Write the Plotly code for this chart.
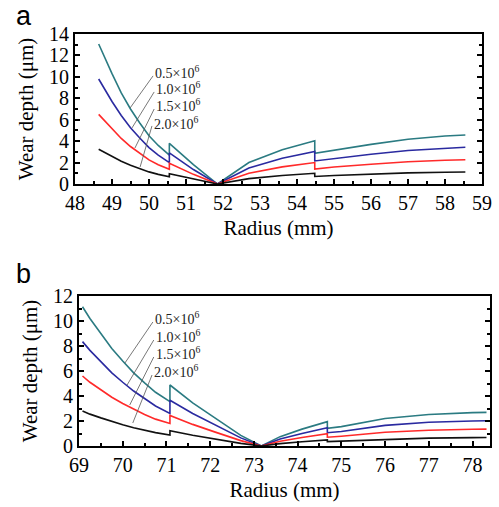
import plotly.graph_objects as go

# panel a: radius (mm) and wear depth (um); repeated radius values give the steps
r_a = [48.64, 48.8, 49.0, 49.25, 49.5, 49.75, 50.0, 50.25, 50.55,
       50.55, 51.2, 51.85,
       52.7, 53.6, 54.48,
       54.48, 55.0, 56.0, 57.0, 58.0, 58.55]
teal_a = [13.07, 11.8, 10.3, 8.5, 7.0, 5.7, 4.5, 3.6, 2.7,
          3.8, 1.8, 0.0,
          2.0, 3.2, 4.04,
          2.86, 3.17, 3.7, 4.17, 4.48, 4.57]
blue_a = [9.8, 8.85, 7.7, 6.4, 5.25, 4.3, 3.4, 2.7, 2.0,
          2.9, 1.35, 0.0,
          1.5, 2.4, 3.03,
          2.15, 2.38, 2.78, 3.13, 3.36, 3.43]
red_a = [6.5, 5.9, 5.15, 4.25, 3.5, 2.85, 2.25, 1.8, 1.37,
         1.93, 0.9, 0.0,
         1.0, 1.6, 2.0,
         1.4, 1.58, 1.85, 2.08, 2.22, 2.26]
black_a = [3.25, 2.95, 2.57, 2.13, 1.75, 1.42, 1.13, 0.9, 0.68,
           0.95, 0.45, 0.0,
           0.5, 0.8, 1.0,
           0.7, 0.79, 0.93, 1.04, 1.1, 1.12]

# panel b
r_b = [69.08, 69.25, 69.5, 69.75, 70.0, 70.25, 70.5, 70.75, 71.08,
       71.08, 71.6, 72.1, 72.7, 73.17,
       73.6, 74.1, 74.68,
       74.68, 75.0, 76.0, 77.0, 78.0, 78.32]
teal_b = [11.14, 10.2, 9.0, 7.8, 6.8, 5.85, 5.05, 4.3, 3.55,
          4.88, 3.45, 2.25, 0.85, 0.0,
          0.75, 1.35, 1.95,
          1.41, 1.55, 2.2, 2.52, 2.67, 2.69]
blue_b = [8.35, 7.65, 6.75, 5.85, 5.1, 4.4, 3.8, 3.2, 2.61,
          3.66, 2.6, 1.7, 0.65, 0.0,
          0.56, 1.0, 1.46,
          1.06, 1.16, 1.65, 1.9, 2.0, 2.02]
red_b = [5.6, 5.1, 4.5, 3.9, 3.4, 2.93, 2.52, 2.15, 1.8,
         2.44, 1.73, 1.13, 0.43, 0.0,
         0.38, 0.68, 0.98,
         0.7, 0.78, 1.1, 1.26, 1.34, 1.35]
black_b = [2.8, 2.55, 2.25, 1.95, 1.7, 1.46, 1.26, 1.07, 0.88,
           1.22, 0.86, 0.56, 0.21, 0.0,
           0.19, 0.34, 0.49,
           0.35, 0.39, 0.55, 0.63, 0.67, 0.68]

labels = ["0.5×10<sup>6</sup>", "1.0×10<sup>6</sup>", "1.5×10<sup>6</sup>", "2.0×10<sup>6</sup>"]
colors = ["#2b7b82", "#2a2aa0", "#ff2a2a", "#111111"]

# label anchor (radius, depth) and the curve point each leader line touches
lab_a = [(50.11, 10.46), (50.14, 8.96), (50.14, 7.38), (50.08, 5.7)]
lead_a = [(50.11, 10.09, 49.49, 7.10), (50.14, 8.59, 49.54, 5.23),
          (50.14, 7.0, 49.62, 3.36), (50.08, 5.42, 49.76, 1.59)]
lab_b = [(70.69, 10.24), (70.71, 8.8), (70.71, 7.44), (70.67, 6.0)]
lead_b = [(70.69, 9.92, 70.05, 6.64), (70.71, 8.48, 70.10, 4.88),
          (70.71, 7.12, 70.16, 3.28), (70.67, 5.68, 70.23, 1.84)]

FONT = "Liberation Serif, Times New Roman, serif"

fig = go.Figure()
for ys, c in zip([teal_a, blue_a, red_a, black_a], colors):
    fig.add_trace(go.Scatter(x=r_a, y=ys, mode="lines", line=dict(color=c, width=1.6),
                             xaxis="x", yaxis="y", showlegend=False))
for ys, c in zip([teal_b, blue_b, red_b, black_b], colors):
    fig.add_trace(go.Scatter(x=r_b, y=ys, mode="lines", line=dict(color=c, width=1.6),
                             xaxis="x2", yaxis="y2", showlegend=False))

shapes = []
annos = []
for (xr, yr, labs, leads) in [("x", "y", lab_a, lead_a), ("x2", "y2", lab_b, lead_b)]:
    for txt, (lx, ly), (x0, y0, x1, y1) in zip(labels, labs, leads):
        shapes.append(dict(type="line", xref=xr, yref=yr, x0=x0, y0=y0, x1=x1, y1=y1,
                           line=dict(color="#555555", width=0.8)))
        annos.append(dict(xref=xr, yref=yr, x=lx, y=ly, text=txt, showarrow=False,
                          xanchor="left", yanchor="middle",
                          font=dict(family=FONT, size=14, color="#222")))

annos.append(dict(xref="paper", yref="paper", x=14 / 499, y=1 - 16 / 507, text="a",
                  showarrow=False, xanchor="left", yanchor="middle",
                  font=dict(family="Liberation Sans", size=27, color="black")))
annos.append(dict(xref="paper", yref="paper", x=14 / 499, y=1 - 274 / 507, text="b",
                  showarrow=False, xanchor="left", yanchor="middle",
                  font=dict(family="Liberation Sans", size=27, color="black")))

tickfont = dict(family=FONT, size=20, color="black")
titlefont = dict(family=FONT, size=21, color="black")

def xax(domain, rng, anchor):
    return dict(domain=domain, range=rng, anchor=anchor, dtick=1, ticks="inside", ticklen=5,
                tickwidth=1.5, tickcolor="black", showline=True, linewidth=2, linecolor="black",
                mirror=True, showgrid=False, zeroline=False, tickfont=tickfont, automargin=False,
                minor=dict(dtick=0.5, ticks="inside", ticklen=3, tickwidth=1.5, tickcolor="black"),
                title=dict(text="Radius (mm)", font=titlefont, standoff=7))

def yax(domain, rng, anchor):
    return dict(domain=domain, range=rng, anchor=anchor, dtick=2, ticks="inside", ticklen=5,
                tickwidth=1.5, tickcolor="black", showline=True, linewidth=2, linecolor="black",
                mirror="ticks", showgrid=False, zeroline=False, tickfont=tickfont, automargin=False,
                minor=dict(dtick=1, ticks="inside", ticklen=3, tickwidth=1.5, tickcolor="black"),
                title=dict(text="Wear depth (μm)", font=titlefont, standoff=10))

fig.update_layout(
    width=499, height=507,
    margin=dict(l=0, r=0, t=0, b=0),
    paper_bgcolor="white", plot_bgcolor="white",
    font=dict(family=FONT),
    xaxis=xax([75 / 499, 482 / 499], [48, 59], "y"),
    yaxis=yax([1 - 184 / 507, 1 - 34 / 507], [0, 14], "x"),
    xaxis2=xax([79 / 499, 490 / 499], [69, 78.4], "y2"),
    yaxis2=yax([1 - 446 / 507, 1 - 296 / 507], [0, 12], "x2"),
    shapes=shapes,
    annotations=annos,
)

fig.write_html("out.html", config={"displayModeBar": False},
               post_script="document.body.style.margin='0';")
